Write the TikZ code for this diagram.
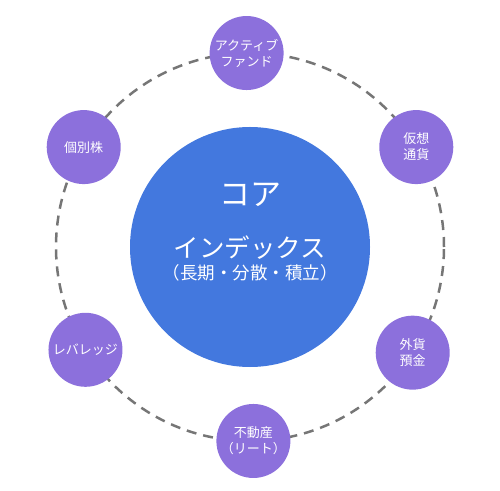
\documentclass[tikz,border=0pt]{standalone}
\usepackage{fontspec}
\setmainfont{Noto Sans CJK JP}
\definecolor{coreblue}{RGB}{67,120,222}
\definecolor{satpurple}{RGB}{140,112,220}
\definecolor{ringgray}{RGB}{118,118,118}
\begin{document}
\begin{tikzpicture}[x=1pt, y=1pt,
	sat/.style={circle, fill=satpurple, minimum size=74pt, inner sep=0pt, text=white, align=center, font=\fontsize{13}{16}\selectfont},
	corelabel/.style={text=white, inner sep=0pt}]
	\useasboundingbox (0,0) rectangle (500,490);
	\node[circle, fill=coreblue, minimum size=240pt, inner sep=0pt] (core) at (250,243) {};
	\draw[ringgray, line width=2.5pt, dash pattern=on 10pt off 7pt] (core.center) circle (194pt);
	\node[corelabel, font=\fontsize{31}{36}\selectfont] (coretitle) at ([yshift=52pt]core.center) {コア};
	\node[corelabel, font=\fontsize{25.5}{30}\selectfont] (coresub) at ([yshift=-1pt]core.center) {インデックス};
	\node[corelabel, font=\fontsize{17.5}{20}\selectfont] (corenote) at ([yshift=-26pt]core.center) {（長期・分散・積立）};
	\foreach \ang / \id / \txt in {91/active/{アクティブ\\ファンド}, 31/crypto/{仮想\\通貨}, -33/fx/{外貨\\預金}, -89/reit/{不動産\\（リート）}, 212/lever/{レバレッジ}, 149/stock/{個別株}} {
		\node[sat] (\id) at ([shift={(\ang:194pt)}]core.center) {\txt};
	}
\end{tikzpicture}
\end{document}
